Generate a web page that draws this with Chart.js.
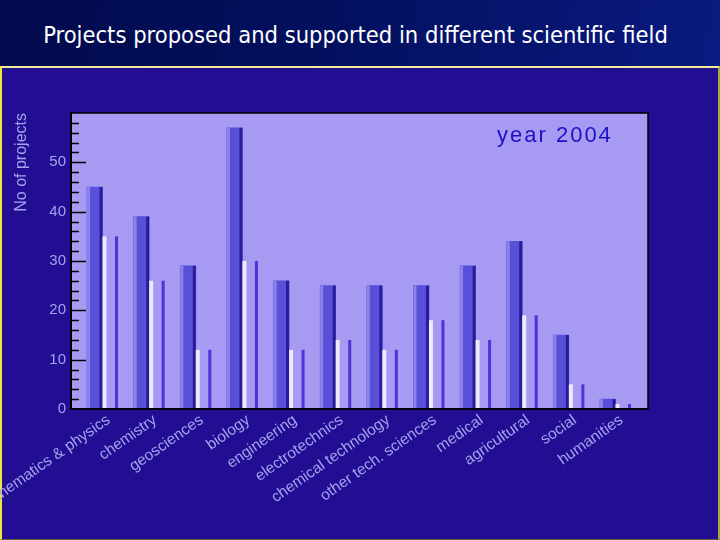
<!DOCTYPE html>
<html>
<head>
<meta charset="utf-8">
<script src="https://cdn.jsdelivr.net/npm/chart.js@4"></script>
<style>
  html, body { margin: 0; padding: 0; }
  body { width: 720px; height: 540px; position: relative; overflow: hidden; background: #220e92; }
  #title {
    position: absolute; left: 0; top: 0; width: 711px; height: 66px; padding-right: 9px;
    background: linear-gradient(100deg, #020a4c 0%, #03105e 45%, #0a1a80 100%);
    color: #fff; font: 23.5px "DejaVu Sans Condensed", "DejaVu Sans", sans-serif;
    text-align: center; line-height: 70px;
  }
  #panel {
    position: absolute; left: 0; top: 66px; width: 720px; height: 474px; box-sizing: border-box;
    border-top: 2px solid #f2ec9a; border-left: 2px solid #f0e838;
    border-right: 2px solid #a8a83c; border-bottom: 1px solid #6a6040;
    background: #220e92;
  }
  #wrap { position: absolute; left: 0; top: 66px; width: 720px; height: 474px; }
</style>
</head>
<body>
<div id="title">Projects proposed and supported in different scientific field</div>
<div id="panel"></div>
<div id="wrap"><canvas id="chart" width="720" height="474"></canvas></div>

<script>
/*************************************************
 * DATA
 *************************************************/
const categories = [
  "mathematics & physics", "chemistry", "geosciences", "biology",
  "engineering", "electrotechnics", "chemical technology", "other tech. sciences",
  "medical", "agricultural", "social", "humanities"
];
const proposed  = [45, 39, 29, 57, 26, 25, 25, 25, 29, 34, 15, 2];
const supported = [35, 26, 12, 30, 12, 14, 12, 18, 14, 19, 5, 1];
const yTicks = [0, 10, 20, 30, 40, 50];

const labelColor = "#a8a0f0";
const plotColor = "#a69af2";
const fontFamily = '"Liberation Sans", Arial, sans-serif';

// keep the plot box fixed, labels may run off the canvas
function noPadding(s) {
  s.paddingLeft = 0;
  s.paddingRight = 0;
  s.paddingTop = 0;
  s.paddingBottom = 0;
}

/*************************************************
 * PLOT DECORATION (background, 3D edges, frame, tick marks)
 *************************************************/
const plotFrame = {
  id: "plotFrame",
  beforeDraw(chart) {
    const { ctx, chartArea: a } = chart;
    ctx.save();
    ctx.fillStyle = plotColor;
    ctx.fillRect(a.left, a.top, a.width, a.height);
    ctx.restore();
  },
  afterDatasetsDraw(chart) {
    const { ctx, chartArea: a } = chart;
    const yScale = chart.scales.y;
    ctx.save();

    // bar edges
    chart.data.datasets.forEach((ds, di) => {
      chart.getDatasetMeta(di).data.forEach(bar => {
        const l = bar.x - bar.width / 2;
        const r = bar.x + bar.width / 2;
        const h = bar.base - bar.y;
        ctx.fillStyle = ds.edgeLeft;
        ctx.fillRect(l, bar.y, ds.edgeLeftWidth, h);
        ctx.fillStyle = ds.edgeRight;
        ctx.fillRect(r - 3, bar.y, 3, h);
      });
    });

    // frame
    ctx.strokeStyle = "#000";
    ctx.lineWidth = 1.5;
    ctx.strokeRect(a.left, a.top, a.width, a.height);
    ctx.lineWidth = 2;
    ctx.beginPath();
    ctx.moveTo(a.left, a.top);
    ctx.lineTo(a.left, a.bottom);
    ctx.lineTo(a.right, a.bottom);
    ctx.stroke();

    // tick marks inside the plot
    ctx.lineWidth = 1.5;
    for (let v = 2; v < 60; v += 2) {
      const y = Math.round(yScale.getPixelForValue(v)) + 0.5;
      const len = v % 10 === 0 ? 15 : 8;
      ctx.beginPath();
      ctx.moveTo(a.left, y);
      ctx.lineTo(a.left + len, y);
      ctx.stroke();
    }

    // year label
    ctx.fillStyle = "#1c12c4";
    ctx.font = "22px " + fontFamily;
    ctx.letterSpacing = "2px";
    ctx.textBaseline = "alphabetic";
    ctx.fillText("year 2004", a.left + 426, a.top + 29);
    ctx.restore();
  }
};

/*************************************************
 * CHART
 *************************************************/
new Chart(document.getElementById("chart"), {
  type: "bar",
  data: {
    datasets: [
      {
        label: "proposed",
        data: proposed.map((v, i) => ({ x: i, y: v })),
        backgroundColor: "#5850d8",
        edgeLeft: "#8c82ea",
        edgeLeftWidth: 3,
        edgeRight: "#2a1c98"
      },
      {
        label: "supported",
        data: supported.map((v, i) => ({ x: i, y: v })),
        backgroundColor: plotColor,
        edgeLeft: "#eceafb",
        edgeLeftWidth: 4,
        edgeRight: "#5430d8"
      }
    ]
  },
  options: {
    responsive: false,
    animation: false,
    barThickness: 15.5,
    layout: { autoPadding: false, padding: { left: 0, top: 47, right: 72, bottom: 0 } },
    plugins: { legend: { display: false }, tooltip: { enabled: false } },
    scales: {
      x: {
        type: "linear",
        offset: false,
        min: -0.676,
        max: 11.697,
        afterFit(s) { s.height = 131; noPadding(s); },
        afterBuildTicks(s) { s.ticks = categories.map((c, i) => ({ value: i })); },
        ticks: {
          callback: v => categories[v],
          autoSkip: false,
          minRotation: 35,
          maxRotation: 35,
          labelOffset: 6,
          color: labelColor,
          font: { family: fontFamily, size: 15.5 },
          padding: 2
        },
        grid: { display: false, drawTicks: false, offset: false },
        border: { display: false }
      },
      y: {
        min: 0,
        max: 60,
        afterFit(s) { s.width = 71; noPadding(s); },
        afterBuildTicks(s) { s.ticks = yTicks.map(v => ({ value: v })); },
        ticks: {
          color: labelColor,
          font: { family: fontFamily, size: 15 },
          padding: 5
        },
        grid: { display: false, drawTicks: false },
        border: { display: false },
        title: {
          display: true,
          text: "No of projects",
          align: "end",
          color: labelColor,
          font: { family: fontFamily, size: 16 },
          padding: { top: 12, bottom: 0 }
        }
      }
    }
  },
  plugins: [plotFrame]
});
</script>
</body>
</html>
